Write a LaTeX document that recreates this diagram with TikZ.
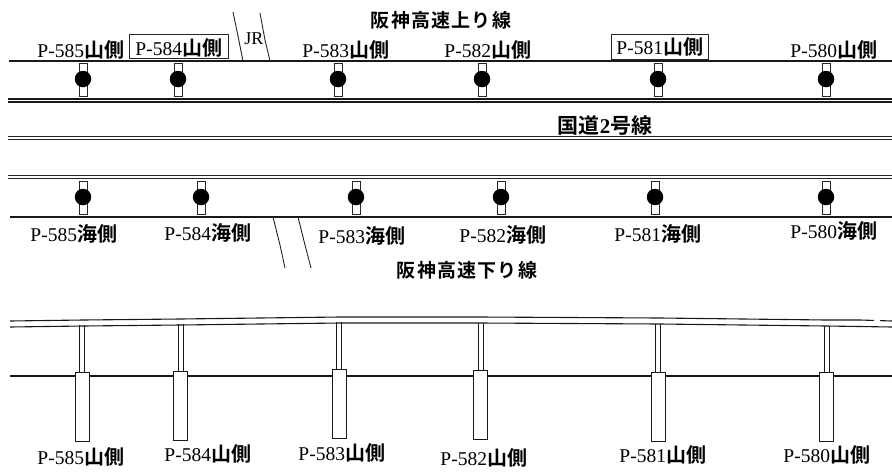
\documentclass[tikz,border=0pt]{standalone}
\usepackage{fontspec}
\setmainfont{Liberation Serif}
\newfontfamily\cjkfont{Noto Sans CJK JP}[BoldFont={Noto Sans CJK JP Bold}]
\newcommand{\plab}[2]{{\fontsize{19.5}{21}\selectfont #1\kern0.5pt{\cjkfont\bfseries\fontsize{20}{22}\selectfont #2}}}
\newcommand{\tk}{\kern1.2pt}
\tikzset{
  line/.style={draw=black!90,line width=1.1pt},
  thin line/.style={draw=black!85,line width=0.9pt},
  lab/.style={inner sep=0pt,anchor=center},
  title/.style={inner sep=0pt,anchor=center,font=\cjkfont\bfseries\fontsize{19}{21}\selectfont},
  tag/.style={draw=black!85,line width=0.8pt,fill=none,inner sep=0pt},
  stem/.style={draw=black!85,line width=1pt,fill=white,inner sep=0pt,minimum width=8pt,minimum height=33pt},
  dot/.style={circle,fill=black,inner sep=0pt,minimum size=16.5pt},
  foot/.style={draw=black!90,line width=1pt,fill=white,inner sep=0pt,minimum width=14pt,minimum height=69pt}
}
\begin{document}
\begin{tikzpicture}[x=1pt,y=-1pt]
\useasboundingbox (0,0) rectangle (892,472);
% road edges
\draw[line] (9,61) -- (892,61);
\draw[line] (8,99) -- (892,99);
\draw[line] (8,102) -- (892,102);
\draw[thin line] (8,136) -- (892,136);
\draw[thin line] (8,139) -- (892,139);
\draw[thin line] (8,175) -- (892,175);
\draw[thin line] (8,178) -- (892,178);
\draw[line] (10,217) -- (892,217);
% JR
\draw[thin line] (233,12) -- (238,36) -- (243,61);
\draw[thin line] (260,13) -- (265,40) -- (270,61);
\draw[thin line] (273,217) -- (280,245) -- (285,268);
\draw[thin line] (298,217) -- (305,245) -- (311,268);
\node[lab,font=\fontsize{18}{20}\selectfont] (jr) at (254,39) {JR};
% upper piers
\foreach \n/\x in {a/83,b/178,c/338,d/482,e/658,f/826}{
  \node[stem] (u\n) at (\x,80) {};
  \node[dot] (ud\n) at (\x,79) {};
}
% sea-side piers
\foreach \n/\x in {a/83,b/201,c/356,d/501,e/655,f/826}{
  \node[stem] (s\n) at (\x,198) {};
  \node[dot] (sd\n) at (\x,197) {};
}
% side view
\draw[line] (10,321) -- (83,320) -- (180,319) -- (340,317) -- (480,317) -- (660,318) -- (826,320) -- (860,320);
\draw[line,dash pattern=on 14pt off 6pt] (860,320) -- (892,321);
\draw[line] (10,327) -- (83,326) -- (180,325) -- (340,323) -- (480,323) -- (660,324) -- (826,326) -- (892,327);
\draw[line] (10,376) -- (892,376);
\foreach \n/\xs/\ts/\xf/\yf in {a/82/325/82.5/407,b/181/324/180.5/406,c/339/322/339.5/404,d/481/323/480.5/404.5,e/658/324/658/406.5,f/827/326/826/406.5}{
  \node[foot] (f\n) at (\xf,\yf) {};
  \coordinate (t\n) at (\xs,\ts);
  \draw[line] ([xshift=-2.5pt]t\n) -- ([xshift=-2.5pt]t\n |- f\n.north);
  \draw[line] ([xshift=2.5pt]t\n) -- ([xshift=2.5pt]t\n |- f\n.north);
  \draw[line] ([xshift=2.5pt]t\n) -- ([xshift=2.5pt,yshift=-6pt]t\n);
}
% titles
\node[title] (t1) at (441,20) {阪\tk 神\tk 高\tk 速\tk 上\tk り\tk 線};
\node[title] (t2) at (467,270) {阪\tk 神\tk 高\tk 速\tk 下\tk り\tk 線};
\node[title,font=\cjkfont\bfseries\fontsize{21}{23}\selectfont] (t3) at (605,126) {国道{\rmfamily\bfseries 2}号線};
% top labels
\node[lab] (l1) at (81,50) {\plab{P-585}{山側}};
\node[lab] (l2) at (179,48) {\plab{P-584}{山側}};
\node[lab] (l3) at (346,50) {\plab{P-583}{山側}};
\node[lab] (l4) at (488,50) {\plab{P-582}{山側}};
\node[lab] (l5) at (660,47) {\plab{P-581}{山側}};
\node[lab] (l6) at (834,50) {\plab{P-580}{山側}};
\draw[tag] (129,34) rectangle (228,58);
\draw[tag] (611,34) rectangle (708,59);
% sea labels
\node[lab] (m1) at (74,234) {\plab{P-585}{海側}};
\node[lab] (m2) at (208,233) {\plab{P-584}{海側}};
\node[lab] (m3) at (362,236) {\plab{P-583}{海側}};
\node[lab] (m4) at (503,235) {\plab{P-582}{海側}};
\node[lab] (m5) at (658,234) {\plab{P-581}{海側}};
\node[lab] (m6) at (834,231) {\plab{P-580}{海側}};
% bottom labels
\node[lab] (n1) at (81,457) {\plab{P-585}{山側}};
\node[lab] (n2) at (208,454) {\plab{P-584}{山側}};
\node[lab] (n3) at (342,453) {\plab{P-583}{山側}};
\node[lab] (n4) at (484,458) {\plab{P-582}{山側}};
\node[lab] (n5) at (663,455) {\plab{P-581}{山側}};
\node[lab] (n6) at (827,455) {\plab{P-580}{山側}};
\end{tikzpicture}
\end{document}
